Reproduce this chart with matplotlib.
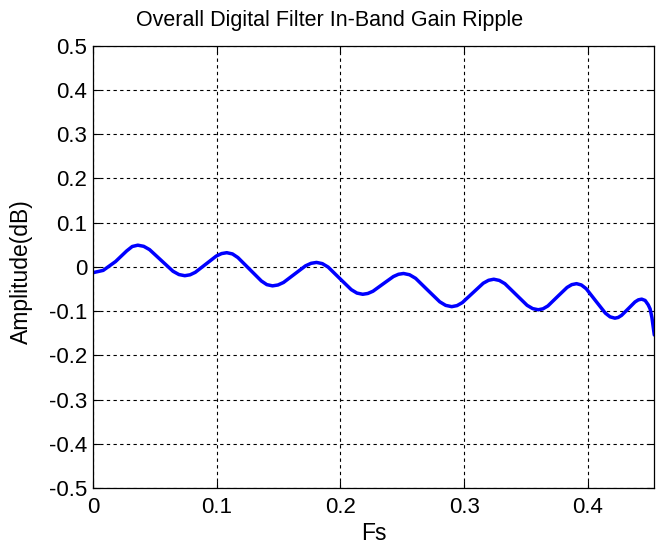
import matplotlib
matplotlib.use("Agg")
import matplotlib.pyplot as plt

# In-band gain ripple of the overall digital filter (dB) vs normalised frequency
freq = [0.000, 0.008, 0.018, 0.027, 0.0315, 0.036, 0.0408,
        0.0455, 0.055, 0.0645, 0.0693, 0.074, 0.0783,
        0.0825, 0.091, 0.0995, 0.1038, 0.108, 0.1126,
        0.117, 0.1265, 0.136, 0.1404, 0.145, 0.1494,
        0.1539, 0.1628, 0.1717, 0.1762, 0.1806, 0.1853,
        0.1900, 0.1993, 0.2087, 0.2133, 0.218, 0.2221,
        0.2263, 0.2345, 0.2428, 0.2469, 0.251, 0.2559,
        0.2608, 0.2705, 0.2803, 0.2851, 0.290, 0.2943,
        0.2985, 0.307, 0.3155, 0.3198, 0.324, 0.3285,
        0.333, 0.342, 0.351, 0.3555, 0.360, 0.3639,
        0.3678, 0.3755, 0.3833, 0.3871, 0.391, 0.3949,
        0.3988, 0.4065, 0.4143, 0.4181, 0.422, 0.4247,
        0.4274, 0.4329, 0.4383, 0.4410, 0.4437,
        0.4465, 0.4490, 0.4505, 0.4520, 0.4539]
gain_db = [-0.013, -0.008, 0.012, 0.036, 0.046, 0.049, 0.0464,
           0.039, 0.0145, -0.010, -0.0174, -0.020, -0.018,
           -0.0124, 0.006, 0.0244, 0.030, 0.032, 0.0292,
           0.021, -0.0055, -0.032, -0.0402, -0.043, -0.041,
           -0.0353, -0.0165, 0.0023, 0.008, 0.010, 0.0073,
           -0.0005, -0.026, -0.0515, -0.0593, -0.062, -0.0602,
           -0.0551, -0.0385, -0.0219, -0.0168, -0.015, -0.0179,
           -0.026, -0.0525, -0.079, -0.0871, -0.090, -0.0876,
           -0.081, -0.059, -0.037, -0.0304, -0.028, -0.0307,
           -0.038, -0.0625, -0.087, -0.0944, -0.097, -0.0948,
           -0.0884, -0.0675, -0.0466, -0.0402, -0.038, -0.041,
           -0.0494, -0.077, -0.1046, -0.113, -0.116, -0.1144,
           -0.1097, -0.0945, -0.0793, -0.0746, -0.073,
           -0.076, -0.086, -0.095, -0.115, -0.154]

x_ticks = [0, 0.1, 0.2, 0.3, 0.4]
x_tick_labels = ["0", "0.1", "0.2", "0.3", "0.4"]
y_ticks = [-0.5, -0.4, -0.3, -0.2, -0.1, 0, 0.1, 0.2, 0.3, 0.4, 0.5]
y_tick_labels = ["-0.5", "-0.4", "-0.3", "-0.2", "-0.1", "0",
                 "0.1", "0.2", "0.3", "0.4", "0.5"]

plt.rcParams["font.family"] = ["Liberation Sans", "DejaVu Sans"]

W, H = 659, 544
fig = plt.figure(figsize=(W / 100, H / 100), dpi=100)
left, right, top, bottom = 93.3, 654.3, 45.7, 488.0
ax = fig.add_axes([left / W, 1 - bottom / H, (right - left) / W, (bottom - top) / H])

ax.plot(freq, gain_db, color=(0, 0, 1), lw=2.5,
        solid_joinstyle="round", solid_capstyle="round")

ax.set_xlim(0, 0.4539)
ax.set_ylim(-0.5, 0.5)
ax.set_xticks(x_ticks)
ax.set_xticklabels(x_tick_labels)
ax.set_yticks(y_ticks)
ax.set_yticklabels(y_tick_labels)

ax.grid(True, color="black", linestyle=(0, (3, 3)), linewidth=0.8)
ax.tick_params(direction="in", length=5, width=0.8, top=True, right=True,
               labelsize=16, colors="black")
ax.tick_params(axis="x", pad=6.5)
ax.tick_params(axis="y", pad=4.5)
for s in ax.spines.values():
    s.set_linewidth(0.9)
    s.set_color("black")

fig.text(0.5, 1 - 26 / H, "Overall Digital Filter In-Band Gain Ripple",
         fontsize=15.5, ha="center", va="baseline")
ax.set_xlabel("Fs", fontsize=16.5)
ax.set_ylabel("Amplitude(dB)", fontsize=16.5)
ax.xaxis.set_label_coords(0.5, -(522 - bottom) / (bottom - top))
ax.yaxis.set_label_coords(-(93.3 - 33) / (right - left), 0.49)

fig.savefig("out.png", dpi=100, facecolor="white")
